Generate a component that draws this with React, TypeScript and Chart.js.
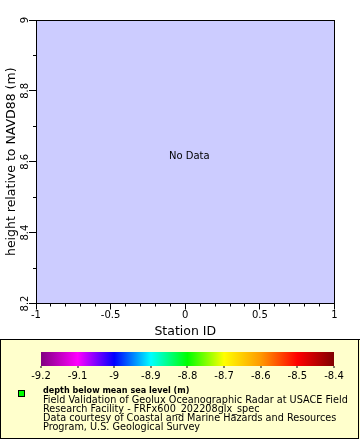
import { useEffect, useRef } from "react";
import { Chart, registerables } from "chart.js";

Chart.register(...registerables);

// ---- data ----
const STATION_IDS: number[] = [];
const HEIGHTS: number[] = [];
const X_MIN = -1;
const X_MAX = 1;
const Y_MIN = 8.2;
const Y_MAX = 9;
const X_MAJOR_STEP = 0.5;
const X_MINOR_STEP = 0.1;
const Y_MAJOR_STEP = 0.2;
const Y_MINOR_STEP = 0.1;
const X_TITLE = "Station ID";
const Y_TITLE = "height relative to NAVD88 (m)";
const NO_DATA_TEXT = "No Data";
const COLORBAR_TICKS = [-9.2, -9.1, -9, -8.9, -8.8, -8.7, -8.6, -8.5, -8.4];
const COLORBAR_COLORS = ["#800080", "#FF00FF", "#0000FF", "#00FFFF", "#00FF00", "#FFFF00", "#FF9900", "#FF0000", "#800000"];
const LEGEND_TITLE = "depth below mean sea level (m)";
const LEGEND_LINES = [
  "Field Validation of Geolux Oceanographic Radar at USACE Field",
  "Research Facility - FRFx600_202208glx_spec",
  "Data courtesy of Coastal and Marine Hazards and Resources",
  "Program, U.S. Geological Survey",
];

const FONT = "DejaVu Sans";
const fmt = (v: number | string) => String(Number(Number(v).toFixed(3)));

const decorPlugin = {
  id: "decor",
  beforeDraw(chart: any) {
    const { ctx, chartArea: a, width, height } = chart;
    ctx.save();
    ctx.fillStyle = "#FFFFFF";
    ctx.fillRect(0, 0, width, height);
    ctx.fillStyle = "#CCCCFF";
    ctx.fillRect(a.left, a.top, a.right - a.left, a.bottom - a.top);
    ctx.restore();
  },
  afterDraw(chart: any) {
    const { ctx, chartArea: a } = chart;
    ctx.save();
    // frame
    ctx.strokeStyle = "#000";
    ctx.lineWidth = 1;
    const l = Math.floor(a.left) + 0.5;
    const t = Math.floor(a.top) + 0.5;
    const r = Math.floor(a.right) + 0.5;
    const b = Math.floor(a.bottom) + 0.5;
    ctx.strokeRect(l, t, r - l, b - t);

    // No Data
    if (STATION_IDS.length === 0) {
      ctx.fillStyle = "#000";
      ctx.font = `10px "${FONT}"`;
      ctx.textAlign = "center";
      ctx.textBaseline = "middle";
      ctx.fillText(NO_DATA_TEXT, (a.left + a.right) / 2 + 4, (a.top + a.bottom) / 2 - 5);
    }

    // legend box
    const boxTop = 339;
    ctx.fillStyle = "#FFFFCC";
    ctx.fillRect(0, boxTop, 360, 100);
    ctx.fillStyle = "#000";
    ctx.fillRect(0, boxTop, 360, 1);
    ctx.fillRect(0, boxTop, 1, 100);
    ctx.fillRect(358, boxTop, 1, 100);
    ctx.fillRect(0, 438, 359, 1);

    // colorbar
    const cbL = 41, cbR = 334, cbT = 352, cbB = 366;
    const vMin = COLORBAR_TICKS[0];
    const vMax = COLORBAR_TICKS[COLORBAR_TICKS.length - 1];
    const grad = ctx.createLinearGradient(cbL, 0, cbR, 0);
    COLORBAR_TICKS.forEach((v, i) => {
      grad.addColorStop((v - vMin) / (vMax - vMin), COLORBAR_COLORS[i]);
    });
    ctx.fillStyle = grad;
    ctx.fillRect(cbL, cbT, cbR - cbL, cbB - cbT);
    ctx.fillStyle = "#000";
    ctx.font = `10px "${FONT}"`;
    ctx.textAlign = "center";
    ctx.textBaseline = "middle";
    COLORBAR_TICKS.forEach((v) => {
      const x = cbL + ((v - vMin) / (vMax - vMin)) * (cbR - cbL);
      ctx.fillRect(Math.round(x) - 0.5, cbB, 1, 2);
      ctx.fillText(fmt(v), x, 376);
    });

    // legend marker
    ctx.fillStyle = "#00FF00";
    ctx.fillRect(19, 391, 5, 5);
    ctx.strokeStyle = "#000";
    ctx.strokeRect(18.5, 390.5, 6, 6);

    // legend text
    ctx.fillStyle = "#000";
    ctx.textAlign = "left";
    ctx.textBaseline = "middle";
    ctx.font = `bold 8.1px "${FONT}"`;
    ctx.fillText(LEGEND_TITLE, 43, 390.5);
    ctx.font = `9.7px "${FONT}"`;
    LEGEND_LINES.forEach((line, i) => {
      ctx.fillText(line, 43, 400.3 + i * 9.1);
    });
    ctx.restore();
  },
};

export default function App() {
  const ref = useRef<HTMLCanvasElement>(null);
  useEffect(() => {
    document.body.style.margin = "0";
    const canvas = ref.current;
    if (!canvas) return;
    const chart = new Chart(canvas, {
      type: "scatter",
      data: {
        datasets: [
          {
            data: STATION_IDS.map((x, i) => ({ x, y: HEIGHTS[i] })),
            backgroundColor: "#00FF00",
            borderColor: "#000",
            pointRadius: 3,
          },
        ],
      },
      options: {
        animation: false,
        responsive: false,
        devicePixelRatio: 1,
        layout: { padding: { left: 0, top: 20, right: 25.5, bottom: 101 } },
        plugins: { legend: { display: false }, tooltip: { enabled: false } },
        scales: {
          x: {
            type: "linear",
            axis: "x",
            position: "bottom",
            weight: 1,
            min: X_MIN,
            max: X_MAX,
            ticks: {
              stepSize: X_MAJOR_STEP,
              autoSkip: false,
              maxRotation: 0,
              padding: 0,
              color: "#000",
              font: { family: FONT, size: 10 },
              callback: (v: any) => fmt(v),
            },
            grid: { drawOnChartArea: false, drawTicks: true, tickLength: 6, tickColor: "#000", tickWidth: 1 },
            border: { display: true, color: "#000", width: 1 },
            title: {
              display: true,
              text: X_TITLE,
              color: "#000",
              font: { family: FONT, size: 12.5 },
              padding: { top: 0, bottom: 0 },
            },
            afterFit: (s: any) => {
              s.height = 35.5;
            },
          },
          xMinor: {
            type: "linear",
            axis: "x",
            position: "bottom",
            weight: 0,
            min: X_MIN,
            max: X_MAX,
            ticks: { display: false, stepSize: X_MINOR_STEP, autoSkip: false },
            grid: { drawOnChartArea: false, drawTicks: true, tickLength: 3, tickColor: "#000", tickWidth: 1 },
            border: { display: false },
            afterFit: (s: any) => {
              s.height = 0;
            },
          },
          y: {
            type: "linear",
            axis: "y",
            position: "left",
            weight: 1,
            min: Y_MIN,
            max: Y_MAX,
            ticks: {
              stepSize: Y_MAJOR_STEP,
              autoSkip: false,
              minRotation: 90,
              maxRotation: 90,
              crossAlign: "center",
              padding: -4,
              color: "#000",
              font: { family: FONT, size: 10 },
              callback: (v: any) => fmt(v),
            },
            grid: { drawOnChartArea: false, drawTicks: true, tickLength: 7, tickColor: "#000", tickWidth: 1 },
            border: { display: true, color: "#000", width: 1 },
            title: {
              display: true,
              text: Y_TITLE,
              color: "#000",
              font: { family: FONT, size: 12.5 },
              padding: { top: 4, bottom: 0 },
            },
            afterFit: (s: any) => {
              s.width = 36;
            },
          },
          yMinor: {
            type: "linear",
            axis: "y",
            position: "left",
            weight: 0,
            min: Y_MIN,
            max: Y_MAX,
            ticks: { display: false, stepSize: Y_MINOR_STEP, autoSkip: false },
            grid: { drawOnChartArea: false, drawTicks: true, tickLength: 3, tickColor: "#000", tickWidth: 1 },
            border: { display: false },
            afterFit: (s: any) => {
              s.width = 0;
            },
          },
        },
      } as any,
      plugins: [decorPlugin],
    });
    return () => chart.destroy();
  }, []);
  return (
    <div style={{ position: "fixed", left: 0, top: 0, width: 360, height: 440, background: "#fff" }}>
      <canvas ref={ref} width={360} height={440} style={{ display: "block", width: 360, height: 440 }} />
    </div>
  );
}
